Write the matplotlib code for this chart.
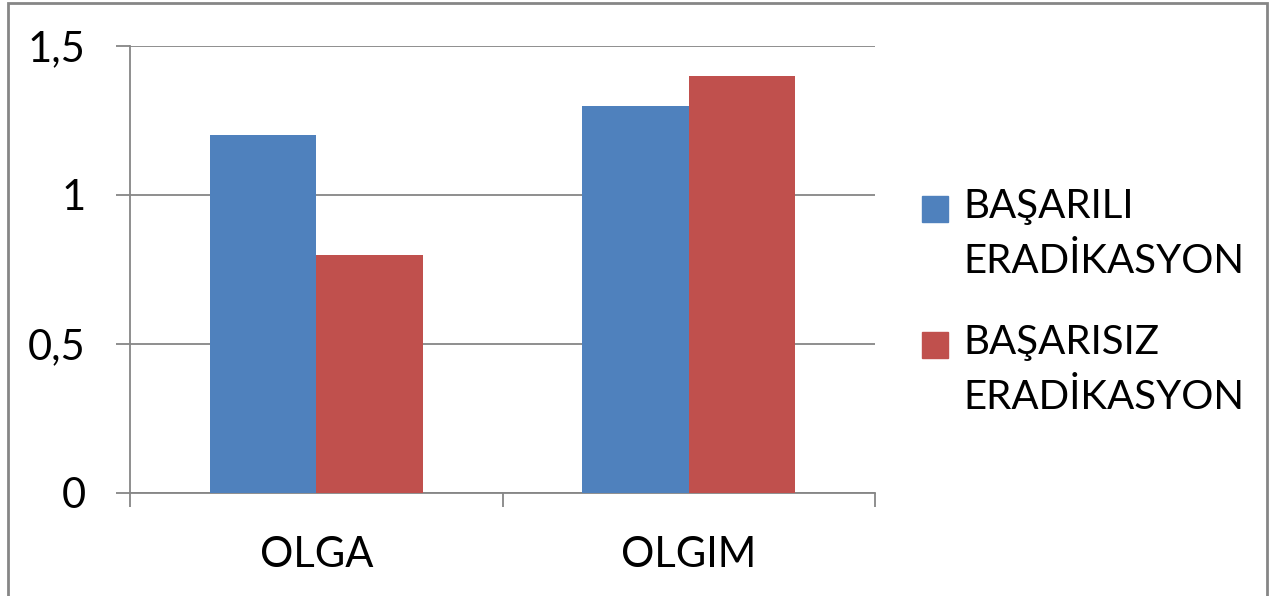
import matplotlib
matplotlib.use("Agg")
import numpy as np
import matplotlib.pyplot as plt
from matplotlib.patches import Rectangle

categories = ["OLGA", "OLGIM"]
series_names = ["BAŞARILI\nERADİKASYON", "BAŞARISIZ\nERADİKASYON"]
basarili = [1.2, 1.3]
basarisiz = [0.8, 1.4]
yticks = [0, 0.5, 1, 1.5]
ytick_labels = ["0", "0,5", "1", "1,5"]

colors = ["#4F81BD", "#C0504D"]
grid_c = "#868686"

plt.rcParams["font.family"] = ["Lato", "DejaVu Sans"]
fs = 30

fig = plt.figure(figsize=(12.8, 5.96), dpi=100)
ax = fig.add_axes([130 / 1280, 1 - 493 / 596, 745 / 1280, 447 / 596])

x = np.arange(len(categories))
w = 1 / 3.5
ax.bar(x - w / 2, basarili, w, color=colors[0], zorder=3)
ax.bar(x + w / 2, basarisiz, w, color=colors[1], zorder=3)

ax.set_xlim(-0.5, len(categories) - 0.5)
ax.set_ylim(0, 1.5)

# y axis
ax.set_yticks(yticks)
ax.set_yticklabels(ytick_labels, fontsize=fs)
ax.tick_params(axis="y", direction="out", length=10, width=1.3, color=grid_c, pad=22)
ax.yaxis.grid(True, color=grid_c, linewidth=1.3, zorder=0)

# x axis: tick marks at the category borders, labels in the middle
ax.set_xticks(np.arange(-0.5, len(categories), 1))
ax.set_xticklabels([])
ax.set_xticks(x, minor=True)
ax.set_xticklabels(categories, minor=True, fontsize=fs)
ax.tick_params(axis="x", which="major", direction="out", length=10, width=1.3, color=grid_c)
ax.tick_params(axis="x", which="minor", length=0, pad=31)

for s in ["top", "right"]:
    ax.spines[s].set_visible(False)
for s in ["left", "bottom"]:
    ax.spines[s].set_color(grid_c)
    ax.spines[s].set_linewidth(1.3)
ax.set_axisbelow(True)

# legend drawn by hand, Excel style
for i, (name, c) in enumerate(zip(series_names, colors)):
    top = 196 + i * 136
    fig.patches.append(Rectangle((922 / 1280, 1 - (top + 26) / 596), 26 / 1280, 26 / 596,
                                 transform=fig.transFigure, color=c))
    fig.text(963 / 1280, 1 - (top - 8) / 596, name, fontsize=29,
             va="top", ha="left", linespacing=1.6)

# chart border
fig.patches.append(Rectangle((8 / 1280, -0.05), 1259 / 1280, 1.05 - 3 / 596,
                             transform=fig.transFigure, fill=False,
                             edgecolor=grid_c, linewidth=2))

fig.savefig("out.png", dpi=100)
